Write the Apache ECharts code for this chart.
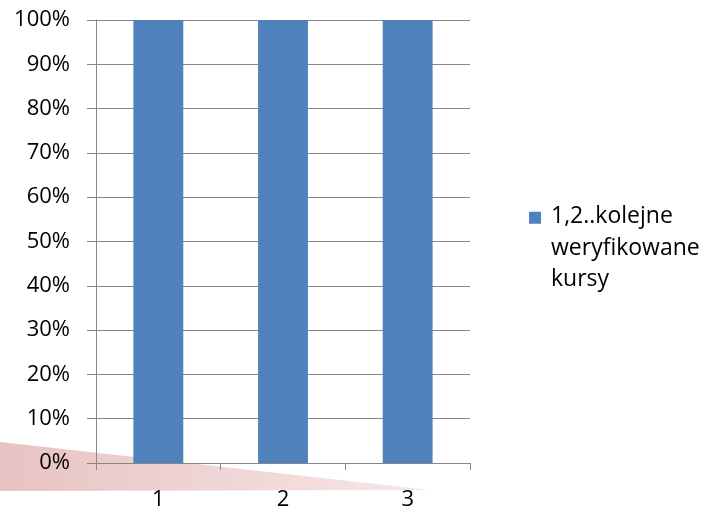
<!DOCTYPE html>
<html><head><meta charset="utf-8">
<script src="https://cdn.jsdelivr.net/npm/echarts@6/dist/echarts.min.js"></script>
<style>html,body{margin:0;padding:0;background:#fff}#c{width:705px;height:508px}</style>
</head><body><div id="c"></div>
<script>
const categories = ['1', '2', '3'];
const seriesName = '1,2..kolejne\nweryfikowane\nkursy';
const values = [100, 100, 100];
const yTicks = { min: 0, max: 100, interval: 10 };

const chart = echarts.init(document.getElementById('c'));
const gray = '#878787';
const font = 'Open Sans';
chart.setOption({
  animation: false,
  graphic: [{
    type: 'polygon', z: 0,
    shape: { points: [[0, 442], [430, 490], [0, 491]] },
    style: { fill: new echarts.graphic.LinearGradient(0, 0, 1, 0, [
      { offset: 0, color: 'rgba(200,110,110,0.42)' },
      { offset: 1, color: 'rgba(200,110,110,0.16)' }
    ]) }
  }],
  grid: { left: 96, right: 235, top: 20, bottom: 45, outerBoundsMode: 'none', containLabel: false },
  legend: {
    orient: 'vertical', left: 529, top: 201, padding: 0,
    itemWidth: 17, itemHeight: 93, itemGap: 0,
    icon: 'path://M0,0L0.001,0L0.001,0.001Z M0,10L12,10L12,22L0,22Z M17,93L16.999,93L16.999,92.999Z',
    textStyle: { fontFamily: font, fontSize: 23, color: '#000', lineHeight: 31.5 },
    data: [seriesName]
  },
  xAxis: {
    type: 'category', data: categories,
    axisLine: { lineStyle: { color: gray, width: 1 } },
    axisTick: { show: true, length: 7, alignWithLabel: false, lineStyle: { color: gray } },
    axisLabel: { fontFamily: font, fontSize: 22, lineHeight: 22, color: '#000', margin: 26 }
  },
  yAxis: {
    type: 'value', min: yTicks.min, max: yTicks.max, interval: yTicks.interval,
    axisLine: { show: true, lineStyle: { color: gray, width: 1 } },
    axisTick: { show: true, length: 9, lineStyle: { color: gray } },
    splitLine: { show: true, lineStyle: { color: gray, width: 1 } },
    axisLabel: { formatter: '{value}%', fontFamily: font, fontSize: 22, color: '#000', margin: 26 }
  },
  series: [{
    name: seriesName, type: 'bar', data: values, barWidth: '40%', z: 2,
    itemStyle: { color: '#4f81bd' }
  }]
});
</script></body></html>
